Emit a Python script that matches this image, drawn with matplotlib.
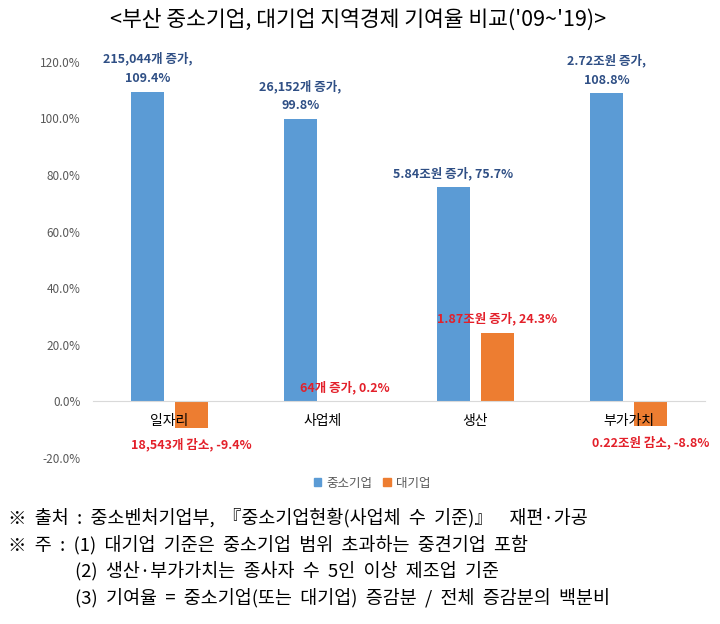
import matplotlib
matplotlib.use('Agg')
import matplotlib.pyplot as plt
import numpy as np
from matplotlib.patches import Patch

plt.rcParams['font.family'] = ['Noto Sans CJK KR', 'DejaVu Sans']

# data
categories = ['일자리', '사업체', '생산', '부가가치']
sme_values = [109.4, 99.8, 75.7, 108.8]
large_values = [-9.4, 0.2, 24.3, -8.8]
sme_labels = ['215,044개 증가,\n109.4%', '26,152개 증가,\n99.8%',
              '5.84조원 증가, 75.7%', '2.72조원 증가,\n108.8%']
large_labels = ['18,543개 감소, -9.4%', '64개 증가, 0.2%',
                '1.87조원 증가, 24.3%', '0.22조원 감소, -8.8%']
series_names = ['중소기업', '대기업']
yticks = [-20, 0, 20, 40, 60, 80, 100, 120]

notes = [
    '※ 출처 : 중소벤처기업부, 『중소기업현황(사업체 수 기준)』  재편·가공',
    '※ 주 : (1) 대기업 기준은 중소기업 범위 초과하는 중견기업 포함',
    '(2) 생산·부가가치는 종사자 수 5인 이상 제조업 기준',
    '(3) 기여율 = 중소기업(또는 대기업) 증감분 / 전체 증감분의 백분비',
]

BLUE = '#5B9BD5'
ORANGE = '#ED7D31'
BLUE_TXT = '#2F4F85'
RED_TXT = '#E3202A'
GRAY = '#595959'

fig = plt.figure(figsize=(7.2, 6.24), dpi=100)
ax = fig.add_axes([0.129, 0.266, 0.85, 0.635])

x = np.arange(len(categories))
w = 0.216
off = 0.144

ax.bar(x - off, sme_values, w, color=BLUE, zorder=1)
ax.bar(x + off, large_values, w, color=ORANGE, zorder=1)

# data labels
for xi, v, lab in zip(x, sme_values, sme_labels):
    ax.annotate(lab, xy=(xi - off, v), xytext=(0, 5), textcoords='offset points',
                ha='center', va='bottom', fontsize=9, fontweight='bold',
                color=BLUE_TXT, linespacing=1.6)
for xi, v, lab in zip(x, large_values, large_labels):
    if v >= 0:
        ax.annotate(lab, xy=(xi + off, v), xytext=(0, 5), textcoords='offset points',
                    ha='center', va='bottom', fontsize=9, fontweight='bold',
                    color=RED_TXT)
    else:
        ax.annotate(lab, xy=(xi + off, v), xytext=(0, -12), textcoords='offset points',
                    ha='center', va='center', fontsize=9, fontweight='bold',
                    color=RED_TXT)

ax.set_xlim(-0.5, len(categories) - 0.5)
ax.set_ylim(-20, 120)
ax.set_yticks(yticks)
ax.set_yticklabels([f'{t:.1f}%' for t in yticks], fontsize=8.5, color=GRAY)
ax.set_xticks(x)
ax.set_xticklabels(categories, fontsize=9, color=GRAY)

for s in ['top', 'right', 'left']:
    ax.spines[s].set_visible(False)
ax.spines['bottom'].set_position(('data', 0))
ax.spines['bottom'].set_color('#D9D9D9')
ax.tick_params(axis='both', length=0)
ax.tick_params(axis='x', pad=9)
ax.tick_params(axis='y', pad=9)

handles = [Patch(color=BLUE, label=series_names[0]),
           Patch(color=ORANGE, label=series_names[1])]
fig.legend(handles=handles, loc='center', bbox_to_anchor=(372 / 720, 1 - 483 / 624),
           ncol=2, frameon=False, fontsize=9, handlelength=0.6, handleheight=0.6,
           handletextpad=0.4, columnspacing=0.9, labelcolor=GRAY)

fig.text(358 / 720, 1 - 20 / 624, "<부산 중소기업, 대기업 지역경제 기여율 비교('09~'19)>",
         ha='center', va='center', fontsize=15.5)

# footnotes: source uses a wide serif face, so word gaps are doubled
note_x = [8, 8, 75, 75]
note_y = [518, 545, 571, 598]
for t, nx, ny in zip(notes, note_x, note_y):
    fig.text(nx / 720, 1 - ny / 624, '  '.join(t.split(' ')), ha='left',
             va='center', fontsize=13.3)

fig.savefig('out.png', dpi=100)
